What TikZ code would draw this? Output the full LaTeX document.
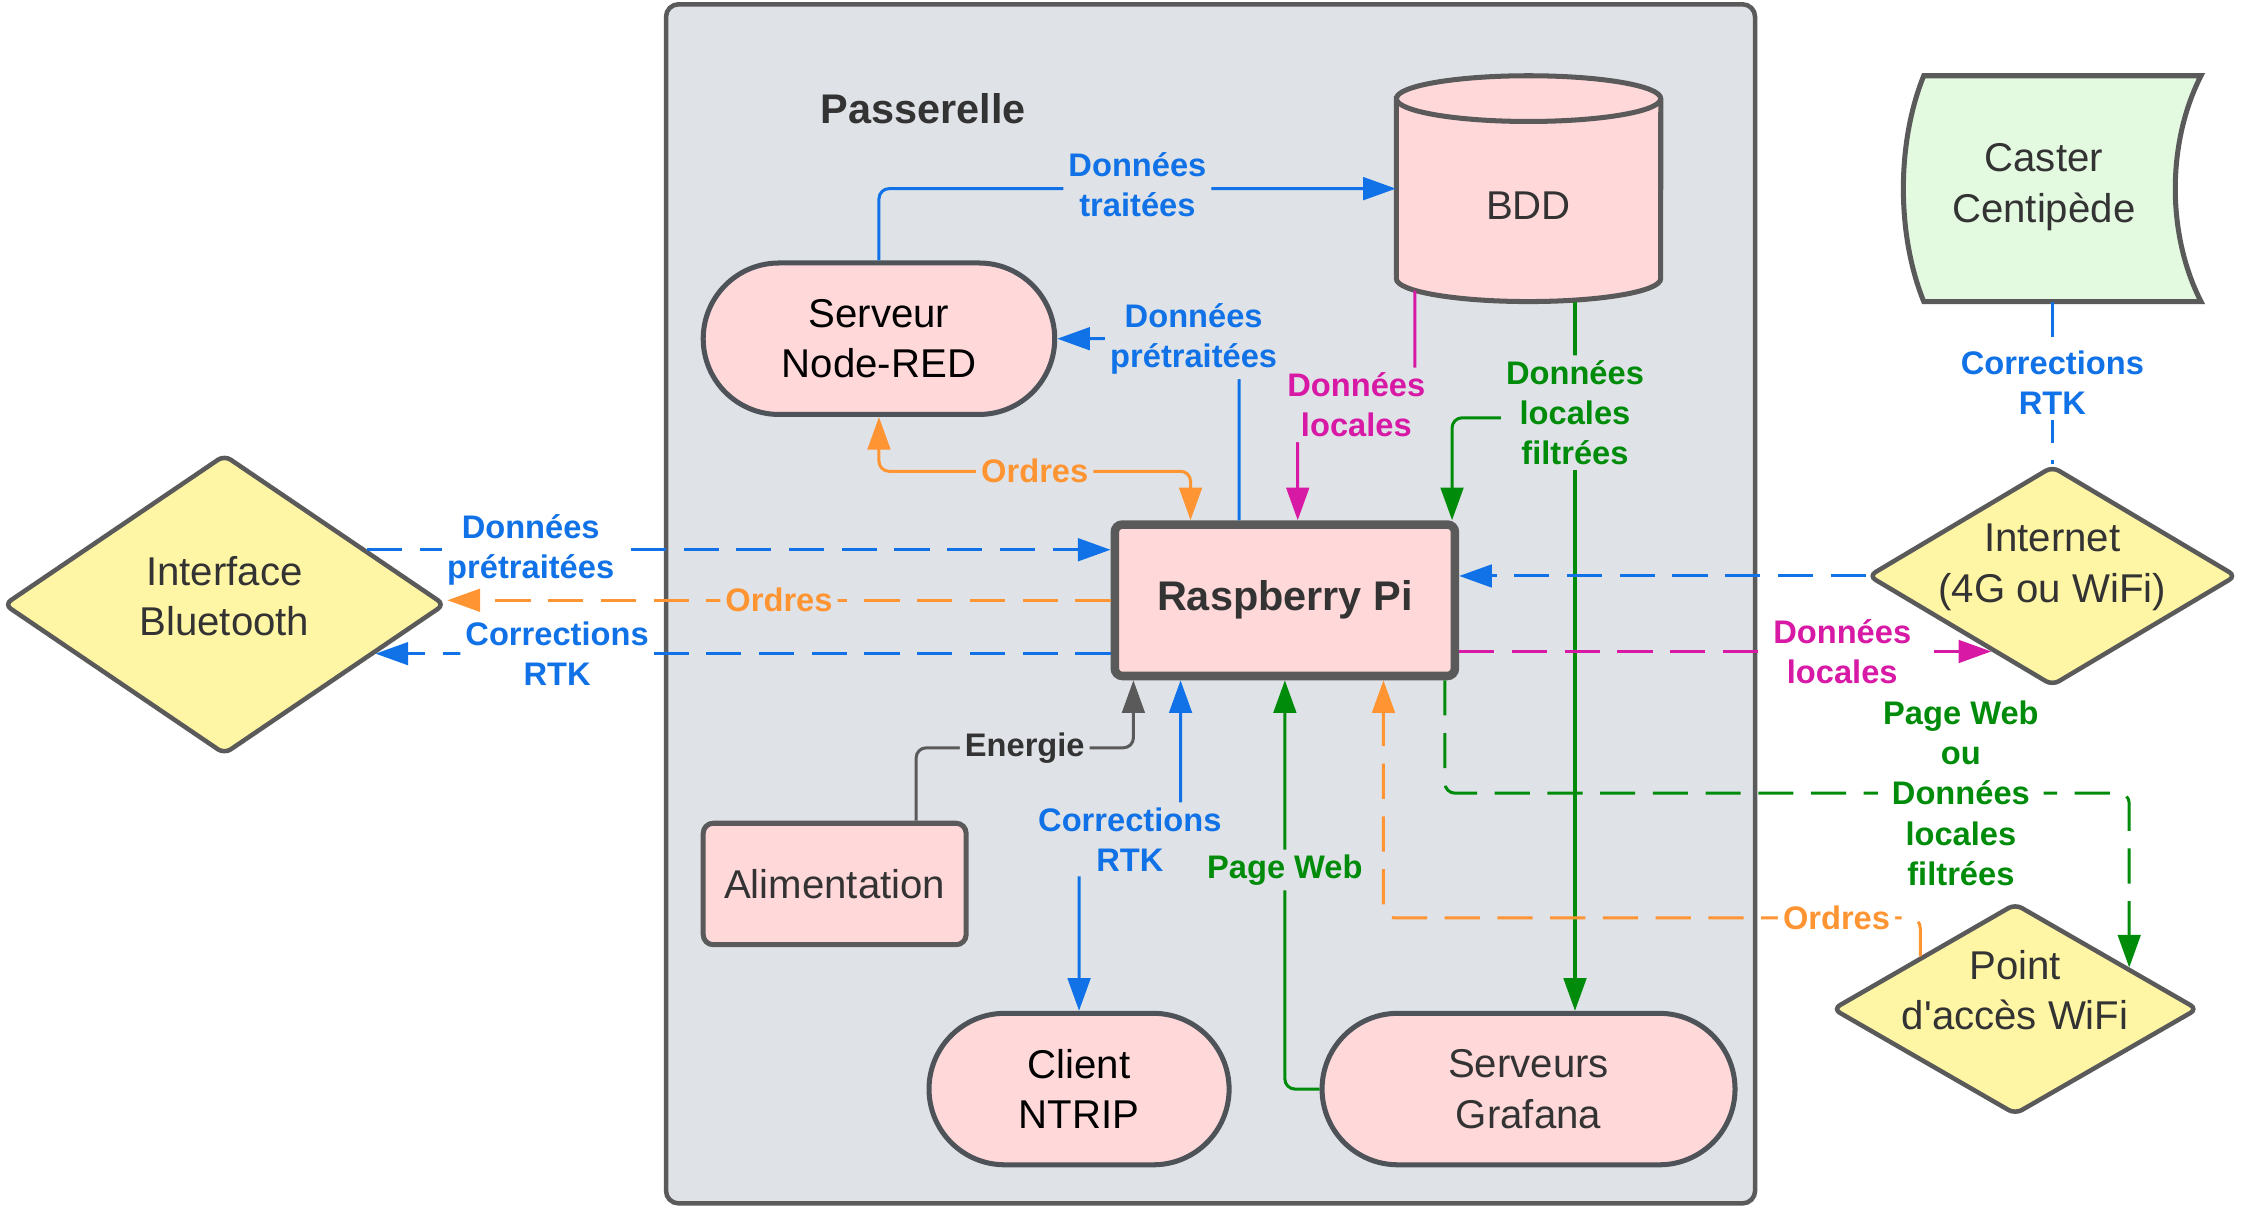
\documentclass[tikz,border=0pt]{standalone}
\usepackage{fontspec}
\setmainfont{Liberation Sans}
\usepackage{tikz}
\usetikzlibrary{shapes.geometric,shapes.misc,arrows.meta,positioning}
\definecolor{passfill}{RGB}{223,227,232}
\definecolor{pinkfill}{RGB}{255,216,217}
\definecolor{yellowfill}{RGB}{255,246,165}
\definecolor{greenfill}{RGB}{227,250,225}
\definecolor{bordergray}{RGB}{90,90,90}
\definecolor{nodeborder}{RGB}{78,83,89}
\definecolor{txtdark}{RGB}{51,51,51}
\definecolor{bluec}{RGB}{16,114,230}
\definecolor{orangec}{RGB}{255,148,50}
\definecolor{magc}{RGB}{215,25,165}
\definecolor{greenc}{RGB}{0,140,10}
\definecolor{energc}{RGB}{90,90,90}

\begin{document}
\begin{tikzpicture}[x=0.02cm,y=-0.02cm,
    >={Triangle[length=13pt,width=9pt]},
    dtext/.style={font=\fontsize{16}{20}\selectfont, align=center, text=txtdark},
    box/.style={dtext, draw=bordergray, line width=2pt, fill=pinkfill},
    stadium/.style={box, rounded rectangle, minimum height=2.12cm, inner xsep=0pt, draw=nodeborder},
    losange/.style={diamond, draw=bordergray, line width=1.8pt, fill=yellowfill, rounded corners=3pt, inner sep=0pt},
    lbl/.style={font=\bfseries\fontsize{13}{16}\selectfont, align=center, fill=passfill, inner sep=2pt},
    lblout/.style={lbl, fill=white},
    link/.style={line width=1.2pt, rounded corners=4pt},
    arr/.style={link, ->},
    biarr/.style={link, <->},
    dashln/.style={dash pattern=on 14pt off 7pt}]
    \useasboundingbox (0,0) rectangle (1568,844);
    % passerelle
    \draw[draw=bordergray, line width=1.8pt, fill=passfill, rounded corners=5pt] (466,3) rectangle (1228,842);
    \node[font=\bfseries\fontsize{16.5}{20}\selectfont, text=txtdark] (passlbl) at (646,76) {Passerelle};
    % nodes of the gateway
    \node[stadium, minimum width=4.92cm, text=black] (nodered) at (615,237) {Serveur\\Node-RED};
    \node[box, line width=3.4pt, minimum width=4.76cm, minimum height=2.12cm, rounded corners=3pt,
          font=\bfseries\fontsize{16.5}{20}\selectfont] (pi) at (899,420) {Raspberry Pi};
    \node[box, minimum width=3.68cm, minimum height=1.7cm, rounded corners=4pt] (alim) at (584,618.5) {Alimentation};
    \node[stadium, minimum width=4.2cm, text=black] (client) at (755,762) {Client\\NTRIP};
    \node[stadium, minimum width=5.78cm] (grafana) at (1069.5,762) {Serveurs\\Grafana};
    % BDD
    \draw[draw=bordergray, line width=2pt, fill=pinkfill] (977,69) -- (977,195)
        arc[start angle=180, end angle=360, x radius=1.85cm, y radius=0.32cm] -- (1162,69)
        arc[start angle=0, end angle=180, x radius=1.85cm, y radius=0.32cm] -- cycle;
    \draw[draw=bordergray, line width=2pt] (977,69) arc[start angle=180, end angle=360, x radius=1.85cm, y radius=0.32cm];
    \node[minimum width=3.7cm, minimum height=3.16cm, inner sep=0pt,
          label={[dtext, yshift=-0.24cm]center:BDD}] (bdd) at (1069.5,132) {};
    % outside
    \draw[draw=bordergray, line width=2pt, fill=greenfill] (1346,53) -- (1540,53)
        .. controls (1516,100) and (1516,164) .. (1540,211) -- (1346,211)
        .. controls (1327,164) and (1327,100) .. (1346,53) -- cycle;
    \node[minimum width=4.16cm, minimum height=3.16cm, inner sep=0pt,
          label={[dtext, xshift=-0.12cm, yshift=0.02cm]center:Caster\\Centipède}] (caster) at (1436,132) {};
    \node[losange, minimum width=6.18cm, minimum height=4.2cm,
          label={[dtext, yshift=0.12cm]center:Interface\\Bluetooth}] (interface) at (157,423) {};
    \node[losange, minimum width=5.16cm, minimum height=3.08cm,
          label={[dtext, yshift=0.12cm]center:Internet\\(4G ou WiFi)}] (internet) at (1436,403) {};
    \node[losange, minimum width=5.12cm, minimum height=2.96cm,
          label={[dtext, yshift=0.26cm]center:Point\\d\textquotesingle accès WiFi}] (wifi) at (1410,706) {};
    % inside links
    \draw[arr, bluec] (nodered.north) |- node[lbl, pos=0.75, yshift=0.06cm] {Données\\traitées} (bdd.west);
    \draw[arr, bluec] ([xshift=-0.64cm]pi.north) |- node[lbl, pos=0.625] {Données\\prétraitées} (nodered.east);
    \draw[biarr, orangec] (nodered.south) -- ++(0,38) -| node[lbl, pos=0.25] {Ordres} ([xshift=-1.32cm]pi.north);
    \draw[arr, magc] ([xshift=-1.59cm,yshift=0.16cm]bdd.south) -- ++(0,80) -| node[lbl, pos=0.25] {Données\\locales} ([xshift=0.18cm]pi.north);
    \draw[arr, greenc] ([xshift=0.65cm]bdd.south) -- ++(0,81) -| ([xshift=2.34cm]pi.north);
    \draw[arr, greenc] ([xshift=0.65cm]bdd.south) -- node[lbl, pos=0.156] {Données\\locales\\filtrées} ([xshift=0.65cm]grafana.north);
    \draw[arr, energc] ([xshift=1.14cm]alim.north) -- ++(0,-51) -| node[lbl, pos=0.25, text=txtdark] {Energie} ([xshift=-2.12cm]pi.south);
    \draw[biarr, bluec] (client.north) -- ++(0,-120) -| node[lbl, pos=0.25] {Corrections\\RTK} ([xshift=-1.46cm]pi.south);
    \draw[arr, greenc] (grafana.west) -| node[lbl, pos=0.768] {Page Web} (pi.south);
    % Bluetooth links
    \draw[arr, bluec, dashln] (interface.21) -- node[lblout, pos=0.22] {Données\\prétraitées} (interface.21 -| pi.west);
    \draw[arr, orangec, dashln] (pi.west) -- node[lbl, pos=0.5] {Ordres} (pi.west -| interface.east);
    \draw[arr, bluec, dashln] (interface.-18 -| pi.west) -- node[lblout, pos=0.753] {Corrections\\RTK} (interface.-18);
    % network links
    \draw[link, bluec, dashln] (caster.south) -- node[lblout] {Corrections\\RTK} (internet.north);
    \draw[arr, bluec, dashln] (internet.west) -- (internet.west -| pi.east);
    \draw[arr, magc, dashln] (internet.231 -| pi.east) -- node[lblout, pos=0.72] {Données\\locales} (internet.231);
    \draw[arr, greenc, dashln] ([xshift=2.24cm]pi.south) -- ++(0,79) -| node[lblout, pos=0.377] {Page Web\\ou\\Données\\locales\\filtrées} (wifi.20);
    \draw[arr, orangec, dashln] (wifi.151) -- ++(0,-27) -| node[lblout, pos=0.078] {Ordres} ([xshift=1.38cm]pi.south);
\end{tikzpicture}
\end{document}
